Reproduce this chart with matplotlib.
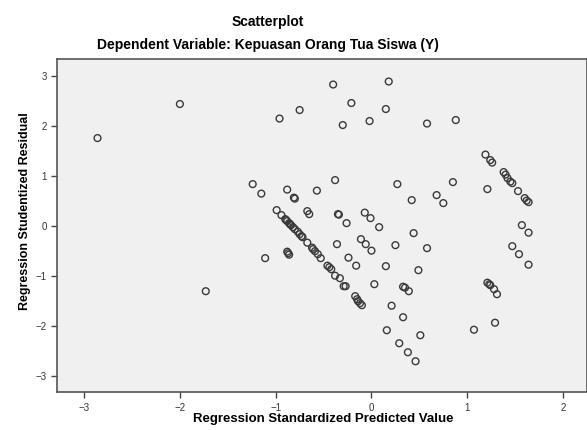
import matplotlib
matplotlib.use('Agg')
import matplotlib.pyplot as plt

plt.rcParams['font.family'] = ['Liberation Sans', 'DejaVu Sans']

# standardized predicted value (x) and studentized residual (y)
pred = [-2.86, -2.00, -1.73,
        -0.40, 0.18, -0.21, -0.75, 0.15, -0.96, -0.30, -0.02, 0.58, 0.88,
        -1.24, -1.15, -0.88, -0.81, -0.80, -0.57, -0.38, 0.27, 0.42, -0.67, -0.65,
        -0.35, -0.34, -0.07, -0.01, -0.26, 0.08, 0.44, 0.85, 0.68, 0.75,
        1.19, 1.24, 1.26, 1.38, 1.40, 1.42, 1.45, 1.47, 1.21, 1.53, 1.60, 1.62, 1.64,
        1.57, 1.64, 1.47, 1.54, 1.64, 1.21, 1.23, 1.24, 1.28, 1.31, 1.29, 1.07,
        0.58, 0.49, 0.33, 0.35, 0.39, 0.33, 0.29, 0.51, 0.38, 0.46,
        -1.11, -0.88, -0.87, -0.86, -0.36, -0.11, -0.06, 0.00, 0.25, -0.24, -0.16,
        0.15, 0.03, 0.21, 0.16,
        -0.99, -0.94, -0.90, -0.89, -0.88, -0.86, -0.85, -0.84, -0.82, -0.80, -0.77,
        -0.75, -0.73, -0.72, -0.67, -0.62, -0.61, -0.59, -0.56, -0.53, -0.46, -0.44,
        -0.42, -0.38, -0.33, -0.29, -0.27, -0.17, -0.15, -0.14, -0.12, -0.10]
resid = [1.75, 2.43, -1.31,
         2.82, 2.88, 2.45, 2.31, 2.33, 2.14, 2.01, 2.09, 2.04, 2.11,
         0.83, 0.64, 0.72, 0.56, 0.54, 0.70, 0.91, 0.83, 0.51, 0.29, 0.23,
         0.23, 0.22, 0.26, 0.15, 0.05, -0.03, -0.15, 0.87, 0.61, 0.45,
         1.42, 1.31, 1.26, 1.07, 1.02, 0.95, 0.88, 0.85, 0.73, 0.69, 0.55, 0.50, 0.47,
         0.01, -0.14, -0.41, -0.57, -0.78, -1.14, -1.17, -1.19, -1.27, -1.37, -1.94, -2.08,
         -0.45, -0.89, -1.22, -1.24, -1.31, -1.83, -2.35, -2.19, -2.53, -2.71,
         -0.65, -0.52, -0.55, -0.58, -0.37, -0.27, -0.37, -0.50, -0.39, -0.64, -0.80,
         -0.81, -1.17, -1.60, -2.09,
         0.31, 0.21, 0.13, 0.11, 0.09, 0.05, 0.03, 0.01, -0.03, -0.07, -0.12,
         -0.17, -0.21, -0.23, -0.34, -0.44, -0.47, -0.51, -0.57, -0.65, -0.80, -0.83,
         -0.87, -1.00, -1.05, -1.21, -1.21, -1.41, -1.47, -1.51, -1.55, -1.59]

xticks = [-3, -2, -1, 0, 1, 2]
yticks = [-3, -2, -1, 0, 1, 2, 3]

fig = plt.figure(figsize=(5.87, 4.30), dpi=100)
ax = fig.add_axes([0.0976, 0.0877, 0.9024, 0.7751])
ax.set_facecolor('#f0f0f0')

ax.scatter(pred, resid, s=24, facecolors='none', edgecolors='#3a3a3a', linewidths=1.0)

ax.set_xlim(-3.28, 2.25)
ax.set_ylim(-3.33, 3.33)
ax.set_xticks(xticks)
ax.set_yticks(yticks)
ax.tick_params(direction='out', length=4, width=1, colors='#444444',
               labelsize=7, labelcolor='#333333')
for side in ['left', 'bottom', 'top', 'right']:
    ax.spines[side].set_color('#555555')
    ax.spines[side].set_linewidth(1.2)

fig.text(0.456, 0.948, 'Scatterplot', ha='center', va='center',
         fontsize=10, fontweight='bold')
fig.text(0.456, 0.895, 'Dependent Variable: Kepuasan Orang Tua Siswa (Y)',
         ha='center', va='center', fontsize=10, fontweight='bold')
fig.text(0.55, 0.012, 'Regression Standardized Predicted Value', ha='center',
         va='bottom', fontsize=9.5, fontweight='bold')
fig.text(0.043, 0.51, 'Regression Studentized Residual', rotation=90,
         ha='center', va='center', fontsize=9, fontweight='bold')

fig.savefig('out.png', dpi=100)
